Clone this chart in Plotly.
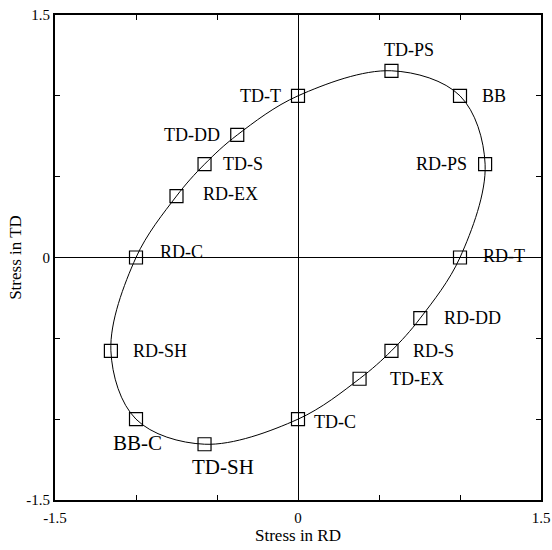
import plotly.graph_objects as go

# Data: stress states ordered around the yield locus
labels = ["TD-T", "TD-DD", "TD-S", "RD-EX", "RD-C", "RD-SH", "BB-C", "TD-SH",
          "TD-C", "TD-EX", "RD-S", "RD-DD", "RD-T", "RD-PS", "BB", "TD-PS"]
stress_rd = [0.0, -0.375, -0.577, -0.75, -1.0, -1.155, -1.0, -0.577,
             0.0, 0.38, 0.577, 0.755, 1.0, 1.155, 1.0, 0.577]
stress_td = [1.0, 0.758, 0.577, 0.38, 0.0, -0.577, -1.0, -1.155,
             -1.0, -0.75, -0.577, -0.375, 0.0, 0.577, 1.0, 1.155]

tick_vals = [-1.5, -1.0, -0.5, 0.0, 0.5, 1.0, 1.5]
tick_text = ["-1.5", "", "", "0", "", "", "1.5"]

SERIF = "Liberation Serif, Times New Roman, Times, serif"

# label styling: anchor, x offset (px), y offset (px), font size
label_style = {
    "TD-T": ("right", -15, 0, 18),
    "TD-DD": ("right", -15, 0, 18),
    "TD-S": ("left", 16, 0, 18),
    "RD-EX": ("left", 24, 2, 18),
    "RD-C": ("left", 22, 6, 18),
    "RD-SH": ("left", 20, 0, 18),
    "BB-C": ("center", 1, -24, 21),
    "TD-SH": ("center", 18, -23, 21),
    "TD-C": ("left", 14, -3, 18),
    "TD-EX": ("left", 28, 0, 18),
    "RD-S": ("left", 20, 0, 18),
    "RD-DD": ("left", 22, 0, 18),
    "RD-T": ("left", 21, 2, 18),
    "RD-PS": ("right", -16, 0, 18),
    "BB": ("left", 20, 0, 18),
    "TD-PS": ("center", 18, 21, 18),
}

fig = go.Figure()

# Closed smooth curve through the stress states
fig.add_trace(go.Scatter(
    x=stress_rd + stress_rd[:1], y=stress_td + stress_td[:1],
    mode="lines", line=dict(color="black", width=1, shape="spline", smoothing=1.0),
    hoverinfo="skip", showlegend=False))

fig.add_trace(go.Scatter(
    x=stress_rd, y=stress_td, mode="markers",
    marker=dict(symbol="square-open", size=13, color="black", line=dict(width=1.2)),
    text=labels, showlegend=False))

for lab, xv, yv in zip(labels, stress_rd, stress_td):
    anchor, dx, dy, fs = label_style[lab]
    fig.add_annotation(x=xv, y=yv, text=lab, showarrow=False, xanchor=anchor,
                       yanchor="middle", xshift=dx, yshift=dy,
                       font=dict(family=SERIF, size=fs, color="black"))

axis_common = dict(
    range=[-1.5, 1.5], tickmode="array", tickvals=tick_vals, ticktext=tick_text,
    ticks="inside", ticklen=5, tickcolor="black", tickwidth=1,
    showline=True, linecolor="black", linewidth=2, mirror="ticks",
    showgrid=False, zeroline=True, zerolinecolor="black", zerolinewidth=1.3,
    automargin=False,
    tickfont=dict(family=SERIF, size=15, color="black"),
)

fig.update_xaxes(**axis_common, ticklabelstandoff=3,
                 title=dict(text="Stress in RD", standoff=3,
                            font=dict(family=SERIF, size=17, color="black")))
fig.update_yaxes(**axis_common,
                 title=dict(text="Stress in TD", standoff=0,
                            font=dict(family=SERIF, size=17, color="black")))

fig.update_layout(
    width=552, height=550,
    margin=dict(l=55, r=11, t=15, b=50),
    plot_bgcolor="white", paper_bgcolor="white",
    font=dict(family=SERIF, color="black"),
)

fig.write_html("out.html", config={"displayModeBar": False},
               post_script="document.body.style.margin='0';document.body.style.overflow='hidden';")
